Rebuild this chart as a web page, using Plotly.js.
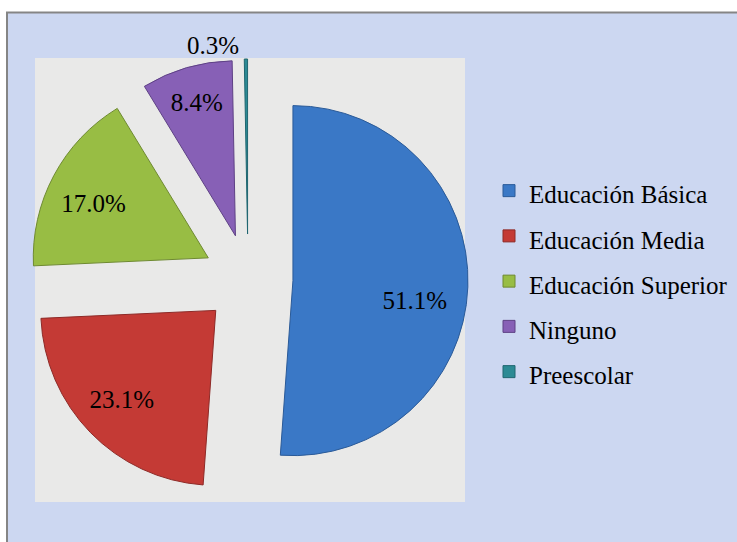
<!DOCTYPE html>
<html>
<head>
<meta charset="utf-8">
<script src="https://cdn.plot.ly/plotly-3.0.1.min.js"></script>
<style>
html,body{margin:0;padding:0;background:#ffffff;}
#chart{width:737px;height:542px;}
</style>
</head>
<body>
<div id="chart"></div>
<script>
// ---- data ----
var categories = ["Educación Básica", "Educación Media", "Educación Superior", "Ninguno", "Preescolar"];
var percentValues = [51.1, 23.1, 17.0, 8.4, 0.3];
var sliceColors = ["#3A78C6", "#C43A35", "#98BD44", "#8760B6", "#2C8A94"];
var edgeColors = ["#2A5A98", "#8E2A27", "#6E8A30", "#5E4185", "#1F6670"];
var labelPositions = ["inside", "inside", "inside", "inside", "outside"];

var NB = "\u00A0";
function pad(n) { var s = ""; for (var i = 0; i < n; i++) s += NB; return s; }
// label templates (padding only nudges where the label sits inside its slice)
var labelTemplates = [
  NB + "<br>" + pad(11) + "%{value:.1f}%",
  NB + "<br>" + "%{value:.1f}%" + pad(6),
  "%{value:.1f}%" + pad(4),
  "%{value:.1f}%",
  "%{value:.1f}%"
];

var legendLabels = categories.map(function (c) {
  return '<span style="font-size:25px">' + c + '</span>';
});

var W = 737, H = 542;
function px(x) { return x / W; }
function py(y) { return 1 - y / H; }

var FONT = "Liberation Serif";

var trace = {
  type: "pie",
  labels: legendLabels,
  values: percentValues,
  sort: false,
  direction: "clockwise",
  rotation: 0,
  pull: 0.257,
  marker: { colors: sliceColors, line: { color: edgeColors, width: 1 } },
  texttemplate: labelTemplates,
  textposition: labelPositions,
  insidetextorientation: "horizontal",
  textfont: { family: FONT, size: 25, color: "#000000" },
  outsidetextfont: { family: FONT, size: 25, color: "#000000" },
  hoverinfo: "none",
  domain: { x: [px(28), px(468)], y: [py(499), py(59)] }
};

var layout = {
  width: W,
  height: H,
  margin: { l: 0, r: 0, t: 0, b: 0, pad: 0 },
  paper_bgcolor: "#ffffff",
  plot_bgcolor: "rgba(0,0,0,0)",
  showlegend: true,
  hovermode: false,
  legend: {
    x: px(489), xanchor: "left",
    y: py(163), yanchor: "top",
    bgcolor: "rgba(0,0,0,0)",
    borderwidth: 0,
    font: { family: FONT, size: 32.5, color: "#000000" },
    traceorder: "normal"
  },
  shapes: [
    {
      type: "rect", xref: "paper", yref: "paper", layer: "below",
      x0: px(7), x1: 1.02, y0: -0.02, y1: py(12.5),
      fillcolor: "#CCD7F1",
      line: { color: "#858585", width: 2 }
    },
    {
      type: "rect", xref: "paper", yref: "paper", layer: "below",
      x0: px(35), x1: px(465), y0: py(502), y1: py(58),
      fillcolor: "#E9E9E8",
      line: { width: 0 }
    }
  ]
};

Plotly.newPlot("chart", [trace], layout, { displayModeBar: false });
</script>
</body>
</html>
